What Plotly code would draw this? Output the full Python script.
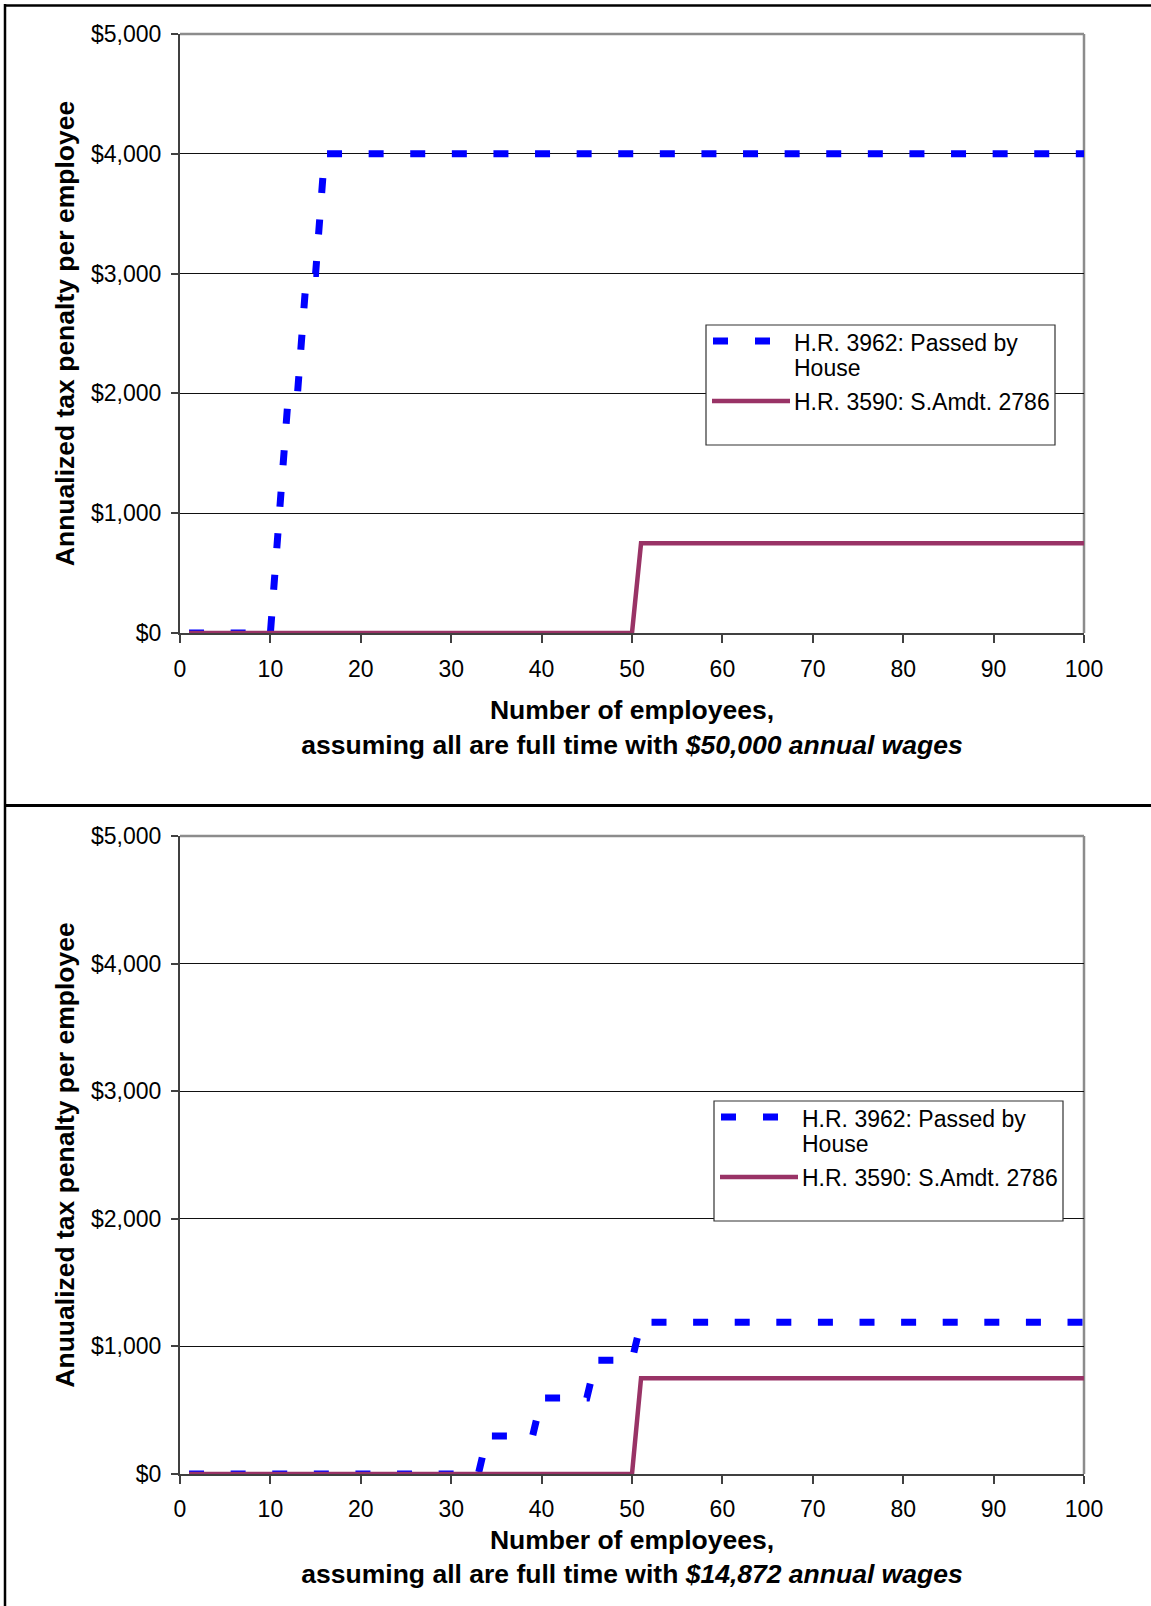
import plotly.graph_objects as go

# ---------------- data ----------------
employees = list(range(1, 101))

# Panel 1: all employees full time with $50,000 annual wages
hr3962_50k = [
    0, 0, 0, 0, 0, 0, 0, 0, 0, 0,
    1000, 2000, 2000, 3000, 3000, 4000, 4000, 4000, 4000, 4000,
    4000, 4000, 4000, 4000, 4000, 4000, 4000, 4000, 4000, 4000,
    4000, 4000, 4000, 4000, 4000, 4000, 4000, 4000, 4000, 4000,
    4000, 4000, 4000, 4000, 4000, 4000, 4000, 4000, 4000, 4000,
    4000, 4000, 4000, 4000, 4000, 4000, 4000, 4000, 4000, 4000,
    4000, 4000, 4000, 4000, 4000, 4000, 4000, 4000, 4000, 4000,
    4000, 4000, 4000, 4000, 4000, 4000, 4000, 4000, 4000, 4000,
    4000, 4000, 4000, 4000, 4000, 4000, 4000, 4000, 4000, 4000,
    4000, 4000, 4000, 4000, 4000, 4000, 4000, 4000, 4000, 4000,
]
samdt_50k = [
    0, 0, 0, 0, 0, 0, 0, 0, 0, 0,
    0, 0, 0, 0, 0, 0, 0, 0, 0, 0,
    0, 0, 0, 0, 0, 0, 0, 0, 0, 0,
    0, 0, 0, 0, 0, 0, 0, 0, 0, 0,
    0, 0, 0, 0, 0, 0, 0, 0, 0, 0,
    750, 750, 750, 750, 750, 750, 750, 750, 750, 750,
    750, 750, 750, 750, 750, 750, 750, 750, 750, 750,
    750, 750, 750, 750, 750, 750, 750, 750, 750, 750,
    750, 750, 750, 750, 750, 750, 750, 750, 750, 750,
    750, 750, 750, 750, 750, 750, 750, 750, 750, 750,
]

# Panel 2: all employees full time with $14,872 annual wages
hr3962_14872 = [
    0, 0, 0, 0, 0, 0, 0, 0, 0, 0,
    0, 0, 0, 0, 0, 0, 0, 0, 0, 0,
    0, 0, 0, 0, 0, 0, 0, 0, 0, 0,
    0, 0, 0, 297, 297, 297, 297, 297, 297, 595,
    595, 595, 595, 595, 595, 892, 892, 892, 892, 892,
    1190, 1190, 1190, 1190, 1190, 1190, 1190, 1190, 1190, 1190,
    1190, 1190, 1190, 1190, 1190, 1190, 1190, 1190, 1190, 1190,
    1190, 1190, 1190, 1190, 1190, 1190, 1190, 1190, 1190, 1190,
    1190, 1190, 1190, 1190, 1190, 1190, 1190, 1190, 1190, 1190,
    1190, 1190, 1190, 1190, 1190, 1190, 1190, 1190, 1190, 1190,
]
samdt_14872 = [
    0, 0, 0, 0, 0, 0, 0, 0, 0, 0,
    0, 0, 0, 0, 0, 0, 0, 0, 0, 0,
    0, 0, 0, 0, 0, 0, 0, 0, 0, 0,
    0, 0, 0, 0, 0, 0, 0, 0, 0, 0,
    0, 0, 0, 0, 0, 0, 0, 0, 0, 0,
    750, 750, 750, 750, 750, 750, 750, 750, 750, 750,
    750, 750, 750, 750, 750, 750, 750, 750, 750, 750,
    750, 750, 750, 750, 750, 750, 750, 750, 750, 750,
    750, 750, 750, 750, 750, 750, 750, 750, 750, 750,
    750, 750, 750, 750, 750, 750, 750, 750, 750, 750,
]

series_names = ["H.R. 3962: Passed by House", "H.R. 3590: S.Amdt. 2786"]
legend_lines = [["H.R. 3962: Passed by", "House"], ["H.R. 3590: S.Amdt. 2786"]]
x_ticks = [0, 10, 20, 30, 40, 50, 60, 70, 80, 90, 100]
y_ticks = [0, 1000, 2000, 3000, 4000, 5000]
y_tick_labels = ["$0", "$1,000", "$2,000", "$3,000", "$4,000", "$5,000"]

x_titles = [
    "<b>Number of employees,<br>assuming all are full time with <i>$50,000 annual wages</i></b>",
    "<b>Number of employees,<br>assuming all are full time with <i>$14,872 annual wages</i></b>",
]
y_titles = [
    "<b>Annualized tax penalty per employee</b>",
    "<b>Anuualized tax penalty per employee</b>",
]

# ---------------- styling ----------------
W, H = 1151, 1606
FONT = "Liberation Sans, Arial, sans-serif"
BLUE = "#0000FF"
PLUM = "#993366"
AXIS = "#404040"
BORDER = "#8C8C8C"
DASH = "15px,26.6px"
TITLE_SIZE = 26.5


def px(x):
    return x / W


def py(y):
    return 1 - y / H


fig = go.Figure()

panels = [
    ("x", "y", hr3962_50k, samdt_50k),
    ("x2", "y2", hr3962_14872, samdt_14872),
]
for xa, ya, hr, sa in panels:
    fig.add_trace(go.Scatter(
        x=employees, y=hr, mode="lines", name=series_names[0],
        line=dict(color=BLUE, width=7, dash=DASH),
        xaxis=xa, yaxis=ya, showlegend=False, hoverinfo="skip"))
    fig.add_trace(go.Scatter(
        x=employees, y=sa, mode="lines", name=series_names[1],
        line=dict(color=PLUM, width=4.5),
        xaxis=xa, yaxis=ya, showlegend=False, hoverinfo="skip"))

x_dom = [px(180), px(1084)]
y_doms = [[py(633), py(34)], [py(1474), py(836)]]
x_standoffs = [20, 9.5]
x_tick_standoffs = [6, 5]


def xaxis_cfg(i, anchor):
    return dict(
        domain=x_dom, anchor=anchor, range=[0, 100],
        tickvals=x_ticks, ticks="outside", ticklen=8, tickwidth=1.5,
        tickcolor=AXIS, showline=True, linecolor=AXIS, linewidth=2,
        showgrid=False, zeroline=False, automargin=False,
        tickfont=dict(family=FONT, size=23, color="black"),
        ticklabelstandoff=x_tick_standoffs[i],
        title=dict(text=x_titles[i], standoff=x_standoffs[i],
                   font=dict(family=FONT, size=TITLE_SIZE, color="black")),
        fixedrange=True,
    )


def yaxis_cfg(i, anchor):
    return dict(
        domain=y_doms[i], anchor=anchor, range=[0, 5000],
        tickvals=y_ticks, ticktext=y_tick_labels,
        ticks="outside", ticklen=7, tickwidth=1.5, tickcolor=AXIS,
        showline=True, linecolor=AXIS, linewidth=2,
        showgrid=True, gridcolor="#111111", gridwidth=1,
        zeroline=False, automargin=False,
        tickfont=dict(family=FONT, size=23, color="black"),
        ticklabelstandoff=5,
        title=dict(text=y_titles[i], standoff=9,
                   font=dict(family=FONT, size=TITLE_SIZE, color="black")),
        fixedrange=True,
    )


shapes = []
annotations = []

# plot-area top & right borders (grey)
for xr, yr in [("x domain", "y domain"), ("x2 domain", "y2 domain")]:
    shapes.append(dict(type="line", xref=xr, yref=yr, x0=0, x1=1, y0=1, y1=1,
                       line=dict(color=BORDER, width=2.5), layer="below"))
    shapes.append(dict(type="line", xref=xr, yref=yr, x0=1, x1=1, y0=0, y1=1,
                       line=dict(color=BORDER, width=2.5), layer="below"))

# legends (boxes with samples and labels), one per panel
legend_offsets = [(0, 0), (8, 776)]
legend_text_y = [343, 368, 402]
for dx, dy in legend_offsets:
    shapes.append(dict(type="rect", xref="paper", yref="paper",
                       x0=px(706 + dx), x1=px(1055 + dx),
                       y0=py(445 + dy), y1=py(325 + dy),
                       line=dict(color="#333333", width=1.2),
                       fillcolor="white", layer="above"))
    shapes.append(dict(type="line", xref="paper", yref="paper",
                       x0=px(713 + dx), x1=px(790 + dx),
                       y0=py(341 + dy), y1=py(341 + dy),
                       line=dict(color=BLUE, width=7, dash="15px,27px"),
                       layer="above"))
    shapes.append(dict(type="line", xref="paper", yref="paper",
                       x0=px(712 + dx), x1=px(790 + dx),
                       y0=py(401 + dy), y1=py(401 + dy),
                       line=dict(color=PLUM, width=4.5), layer="above"))
    for txt, yy in zip([legend_lines[0][0], legend_lines[0][1], legend_lines[1][0]],
                       legend_text_y):
        annotations.append(dict(
            text=txt, xref="paper", yref="paper",
            x=px(792 + dx), y=py(yy + dy), xanchor="left", yanchor="middle",
            showarrow=False, font=dict(family=FONT, size=23, color="black")))

# outer frame (black)
shapes.append(dict(type="line", xref="paper", yref="paper",
                   x0=px(4), x1=1, y0=py(5.5), y1=py(5.5),
                   line=dict(color="black", width=2.5), layer="above"))
shapes.append(dict(type="line", xref="paper", yref="paper",
                   x0=px(5), x1=px(5), y0=0, y1=py(4),
                   line=dict(color="black", width=2.5), layer="above"))
shapes.append(dict(type="line", xref="paper", yref="paper",
                   x0=px(4), x1=1, y0=py(805.5), y1=py(805.5),
                   line=dict(color="black", width=3), layer="above"))

fig.update_layout(
    width=W, height=H,
    margin=dict(l=0, r=0, t=0, b=0),
    paper_bgcolor="white", plot_bgcolor="white",
    font=dict(family=FONT, size=23, color="black"),
    showlegend=False,
    xaxis=xaxis_cfg(0, "y"), yaxis=yaxis_cfg(0, "x"),
    xaxis2=xaxis_cfg(1, "y2"), yaxis2=yaxis_cfg(1, "x2"),
    shapes=shapes, annotations=annotations,
)

fig.write_html("out.html",
               config={"displayModeBar": False},
               post_script="document.body.style.margin='0px';")
